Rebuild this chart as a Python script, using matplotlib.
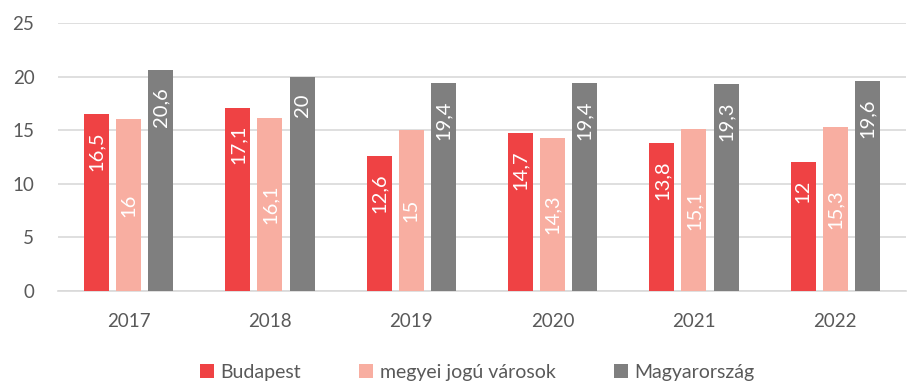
import matplotlib
matplotlib.use("Agg")
import matplotlib.pyplot as plt
import numpy as np

plt.rcParams['font.family'] = ['Lato', 'DejaVu Sans']

years = ["2017", "2018", "2019", "2020", "2021", "2022"]
budapest = [16.5, 17.1, 12.6, 14.7, 13.8, 12.0]
megyei = [16.0, 16.1, 15.0, 14.3, 15.1, 15.3]
magyarorszag = [20.6, 20.0, 19.4, 19.4, 19.3, 19.6]

series_names = ["Budapest", "megyei jogú városok", "Magyarország"]
colors = ["#EF4244", "#F8AEA1", "#7F7F7F"]
label_modes = ["end", "center", "end"]


def fmt(v):
    s = f"{v:.1f}".rstrip("0").rstrip(".")
    return s.replace(".", ",")


fig = plt.figure(figsize=(9.16, 3.85), dpi=100)
ax = fig.add_axes([0.0633, 0.2442, 0.9257, 0.6961])

x = np.arange(len(years))
bw = 0.177
step = 0.227
handles = []
for i, (vals, col, mode) in enumerate(zip([budapest, megyei, magyarorszag], colors, label_modes)):
    pos = x + (i - 1) * step
    bars = ax.bar(pos, vals, width=bw, color=col, zorder=3, label=series_names[i])
    handles.append(bars)
    for p, v in zip(pos, vals):
        if mode == "end":
            ax.annotate(fmt(v), xy=(p, v), xytext=(0, -12.5), textcoords="offset points",
                        rotation=90, ha="center", va="top", color="white",
                        fontsize=14.5, zorder=4)
        else:
            ax.text(p, v / 2, fmt(v), rotation=90, ha="center", va="center",
                    color="white", fontsize=14.5, zorder=4)

ax.set_xlim(-0.5, len(years) - 0.5)
ax.set_ylim(0, 25)
ax.set_yticks([0, 5, 10, 15, 20, 25])
ax.set_xticks(x)
ax.set_xticklabels(years)
ax.yaxis.grid(True, color="#D9D9D9", linewidth=1.2, zorder=0)
ax.set_axisbelow(True)
for s in ["top", "right", "left"]:
    ax.spines[s].set_visible(False)
ax.spines["bottom"].set_color("#D9D9D9")
ax.spines["bottom"].set_linewidth(1.2)
ax.tick_params(axis="both", length=0, labelsize=13.5, labelcolor="#595959")
ax.tick_params(axis="y", pad=17)
ax.tick_params(axis="x", pad=16)

fig.legend(handles=handles, labels=series_names, loc="lower center",
           bbox_to_anchor=(0.521, -0.035), ncol=3, frameon=False,
           fontsize=14, labelcolor="#595959", handlelength=0.7,
           handleheight=0.7, handletextpad=0.35, columnspacing=3.0)

fig.savefig("out.png", dpi=100)
